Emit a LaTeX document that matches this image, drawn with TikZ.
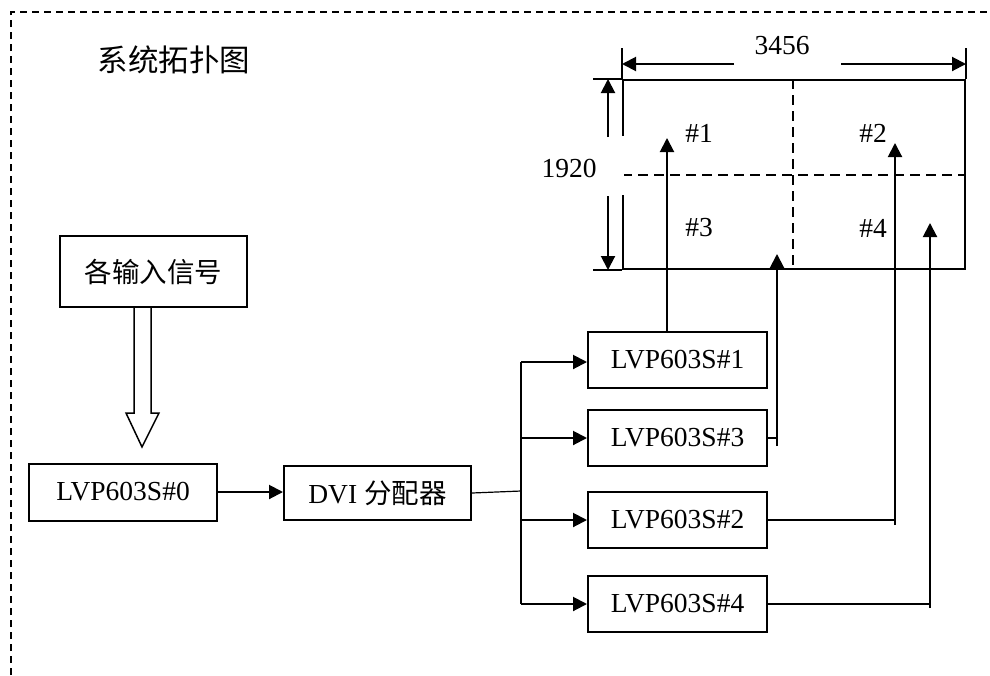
\documentclass[tikz,border=0pt]{standalone}
\usepackage{fontspec}
\setmainfont{Liberation Serif}
\newfontfamily\cjk{Noto Sans CJK SC}[Scale=1.0]
\usetikzlibrary{arrows.meta}
\begin{document}
\begin{tikzpicture}[x=1pt,y=-1pt,
  box/.style={draw, line width=2pt, inner sep=0pt, anchor=center, font=\fontsize{27.5}{30}\selectfont},
  conn/.style={line width=2pt},
  arr/.style={line width=2pt, -{Triangle[length=14pt,width=14pt]}},
  lbl/.style={inner sep=0pt, font=\fontsize{27.5}{30}\selectfont},
  border/.style={line width=1.5pt, dash pattern=on 7pt off 5pt}]
\useasboundingbox (0,0) rectangle (990,675);
% outer dashed border
\draw[border] (11,675) -- (11,12) -- (990,12);
% title
\node[lbl, font=\cjk\fontsize{30.5}{32}\selectfont] (title) at (174,60) {系统拓扑图};
% boxes
\node[box, minimum width=187pt, minimum height=71pt, font=\cjk\fontsize{27.5}{30}\selectfont] (in) at (153.5,271.5) {各输入信号};
\node[box, minimum width=188pt, minimum height=57pt] (L0) at (123,492) {LVP603S\#0};
\node[box, minimum width=187pt, minimum height=54pt] (DVI) at (377.5,493) {DVI {\cjk 分配器}};
\node[box, minimum width=179pt, minimum height=56pt] (L1) at (677.5,360) {LVP603S\#1};
\node[box, minimum width=179pt, minimum height=56pt] (L3) at (677.5,438) {LVP603S\#3};
\node[box, minimum width=179pt, minimum height=56pt] (L2) at (677.5,520) {LVP603S\#2};
\node[box, minimum width=179pt, minimum height=56pt] (L4) at (677.5,604) {LVP603S\#4};
% hollow arrow from input box
\draw[line width=1.5pt] (134,307) -- (134,413) -- (126,413) -- (142,447) -- (159,413) -- (151,413) -- (151,307);
% L0 -> DVI
\draw[arr] (L0.east) -- (L0.east -| DVI.west);
% bus
\coordinate (bus) at (521,491);
\coordinate (busT) at (521,362);
\coordinate (busB) at (521,604);
\draw[line width=1.2pt] (DVI.east) -- (bus);
\draw[conn] (busT) -- (busB);
\draw[arr] (busT) -- (busT -| L1.west);
\draw[arr] (L3.west -| bus) -- (L3.west);
\draw[arr] (L2.west -| bus) -- (L2.west);
\draw[arr] (busB) -- (L4.west);
% screen
\node[draw, line width=2pt, minimum width=342pt, minimum height=189pt, inner sep=0pt] (scr) at (794,174.5) {};
\draw[line width=1.8pt, dash pattern=on 10pt off 6pt] (scr.north -| 793,0) -- (scr.south -| 793,0);
\draw[line width=1.8pt, dash pattern=on 10pt off 6pt] (scr.west |- 0,175) -- (scr.east |- 0,175);
% quadrant labels
\node[lbl] (q1) at (699,133) {\#1};
\node[lbl] (q2) at (873,133) {\#2};
\node[lbl] (q3) at (699,228) {\#3};
\node[lbl] (q4) at (873,228) {\#4};
% width dimension
\draw[line width=2pt] (scr.north west) -- ++(0,-31);
\draw[line width=2pt] (scr.north east) -- ++(0,-31);
\coordinate (wl) at (734,64);
\coordinate (wr) at (841,64);
\draw[arr] (wl) -- (scr.north west |- wl);
\draw[arr] (wr) -- (scr.north east |- wr);
\node[lbl] (w) at (782,46) {3456};
% height dimension
\draw[line width=2pt] (scr.north west) -- ++(-29,0);
\draw[line width=2pt] (scr.south west) -- ++(-29,0);
\fill[white] (535,136) rectangle (623.8,195);
\coordinate (ht) at (608,137);
\coordinate (hb) at (608,196);
\draw[arr] (ht) -- (scr.north west -| ht);
\draw[arr] (hb) -- (scr.south west -| hb);
\node[lbl] (h) at (569,168) {1920};
% connections to screen
\coordinate (t1) at (667,138);
\draw[arr] (L1.north -| t1) -- (t1);
\coordinate (t3) at (777,254);
\draw[conn] (L3.east) -- (L3.east -| t3);
\draw[arr] (777,446) -- (t3);
\coordinate (t2) at (895,143);
\draw[conn] (L2.east) -- (L2.east -| t2);
\draw[arr] (895,525) -- (t2);
\coordinate (t4) at (930,223);
\draw[conn] (L4.east) -- (L4.east -| t4);
\draw[arr] (930,608) -- (t4);
\end{tikzpicture}
\end{document}
